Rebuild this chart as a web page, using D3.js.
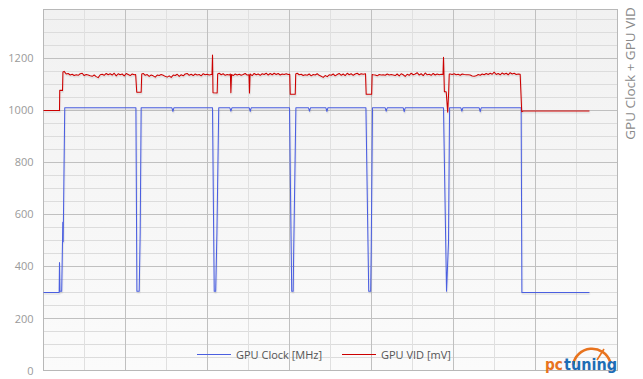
<!DOCTYPE html>
<html>
<head>
<meta charset="utf-8">
<script src="https://cdn.jsdelivr.net/npm/d3@7"></script>
<style>
  body { margin: 0; background: #fff; }
  svg { display: block; font-family: "Open Sans", sans-serif; }
</style>
</head>
<body>
<div id="chart"></div>
<script>
// GPU clock [MHz] - time in seconds / value
var clockTime = [0, 19.1, 19.5, 20.1, 22.2, 23.2, 23.5, 24.0, 25.9,
  112.7, 113.9, 116.7, 117.9, 119.1,
  156.6, 157.8, 159.0,
  206.1, 208.2, 210.0, 211.5, 213.7,
  227.3, 228.5, 229.8, 250.9, 252.1, 253.3,
  300.0, 302.7, 304.5, 305.1, 307.8,
  323.2, 324.4, 325.6, 344.4, 345.6, 346.8,
  393.2, 396.6, 399.0, 399.6, 401.2,
  416.7, 417.9, 419.2, 438.7, 439.9, 441.1,
  487.8, 491.5, 493.9, 495.2,
  509.0, 510.2, 511.4, 531.3, 532.6, 533.8,
  582.5, 583.4, 665.8];
var clockMhz = [300, 300, 415, 305, 305, 500, 570, 495, 1010,
  1010, 305, 305, 525, 1010,
  1010, 996, 1010,
  1010, 305, 305, 530, 1010,
  1010, 997, 1010, 1010, 996, 1010,
  1010, 305, 305, 457, 1010,
  1010, 997, 1010, 1010, 996, 1010,
  1010, 305, 305, 452, 1010,
  1010, 997, 1010, 1010, 995, 1010,
  1010, 305, 493, 1010,
  1010, 997, 1010, 1010, 995, 1010,
  1010, 300, 300];

// GPU VID [mV]
var vidTime = [0, 19.5, 19.8, 23.2, 23.7,
  25.2, 27.7, 30.1, 32.6, 35.0, 37.4, 39.9, 42.3, 44.8, 47.2, 49.6, 52.1, 54.5, 57.0, 59.4, 61.8,
  64.3, 66.7, 69.2, 71.6, 74.0, 76.5, 78.9, 81.3, 83.8, 86.2, 88.7, 91.1, 93.5, 96.0, 98.4, 100.9,
  103.3, 105.7, 108.2, 110.6, 112.4, 113.7, 119.1, 119.8,
  121.6, 124.0, 126.5, 128.9, 131.3, 133.8, 136.2, 138.7, 141.1, 143.5, 146.0, 148.4, 150.9, 153.3,
  155.7, 158.2, 160.6, 163.1, 165.5, 167.9, 170.4, 172.8, 175.2, 177.7, 180.1, 182.6, 185.0, 187.4,
  189.9, 192.3, 194.8, 197.2, 199.6, 202.1, 204.5, 205.5, 206.1, 206.7, 211.8, 212.4,
  214.3, 216.7, 219.1, 221.6, 224.0, 226.5, 227.9, 228.5, 229.3, 231.3, 233.8, 236.2, 238.7, 241.1,
  243.5, 246.0, 248.4, 250.6, 251.2, 251.9, 254.5, 256.9, 259.4, 261.8, 264.3, 266.7, 269.1, 271.6,
  274.0, 276.5, 278.9, 281.3, 283.8, 286.2, 288.7, 291.1, 293.5, 296.0, 298.4, 300.3, 300.9, 307.0, 307.6,
  309.4, 311.8, 314.3, 316.7, 319.1, 321.6, 324.0, 326.5, 328.9, 331.3, 333.8, 336.2, 338.7, 341.1,
  343.5, 346.0, 348.4, 350.9, 353.3, 355.7, 358.2, 360.6, 363.1, 365.5, 367.9, 370.4, 372.8, 375.2,
  377.7, 380.1, 382.6, 385.0, 387.4, 389.9, 392.7, 393.5, 400.2, 400.8,
  402.1, 404.5, 407.0, 409.4, 411.8, 414.3, 416.7, 419.2, 421.6, 424.0, 426.5, 428.9, 431.3, 433.8,
  436.2, 438.7, 441.1, 443.5, 446.0, 448.4, 450.9, 453.3, 455.7, 458.2, 460.6, 463.1, 465.5, 467.9,
  470.4, 472.8, 475.2, 477.7, 480.1, 482.6, 485.0, 487.2, 487.8, 488.9, 491.1, 492.9, 494.1, 494.8,
  496.0, 498.4, 500.9, 503.3, 505.7, 508.2, 510.6, 513.1, 515.5, 517.9, 520.4, 522.8, 525.2, 527.7,
  530.1, 532.6, 535.0, 537.4, 539.9, 542.3, 544.8, 547.2, 549.6, 552.1, 554.5, 557.0, 559.4, 561.8,
  564.3, 566.7, 569.1, 571.6, 574.0, 576.5, 578.9, 581.3, 583.2, 585.0, 665.8];
var vidMv = [1000, 1000, 1077, 1077, 1148,
  1150, 1140, 1142, 1136, 1139, 1134, 1137, 1135, 1141, 1143, 1134, 1138, 1136, 1133, 1131, 1136,
  1130, 1126, 1137, 1139, 1135, 1142, 1137, 1141, 1136, 1143, 1133, 1141, 1137, 1140, 1133, 1142,
  1138, 1134, 1140, 1137, 1138, 1070, 1070, 1140,
  1142, 1135, 1138, 1131, 1136, 1133, 1128, 1136, 1134, 1138, 1135, 1131, 1128, 1133,
  1127, 1136, 1134, 1139, 1131, 1137, 1133, 1140, 1142, 1135, 1139, 1134, 1140, 1136,
  1138, 1133, 1141, 1137, 1139, 1136, 1138, 1138, 1213, 1068, 1067, 1140,
  1143, 1137, 1141, 1135, 1138, 1136, 1140, 1068, 1138, 1134, 1140, 1136, 1139, 1135,
  1138, 1142, 1136, 1137, 1067, 1140, 1134, 1142, 1137, 1140, 1135, 1141, 1138, 1143,
  1136, 1142, 1137, 1143, 1138, 1142, 1136, 1140, 1138, 1141, 1138, 1139, 1062, 1062, 1140,
  1143, 1137, 1139, 1134, 1137, 1135, 1140, 1133, 1138, 1136, 1141, 1135, 1131, 1127,
  1134, 1130, 1137, 1135, 1140, 1133, 1138, 1142, 1135, 1140, 1134, 1143, 1137, 1141,
  1135, 1140, 1143, 1137, 1141, 1139, 1141, 1062, 1062, 1138,
  1137, 1136, 1133, 1138, 1136, 1137, 1135, 1140, 1136, 1138, 1136, 1134, 1140, 1133,
  1141, 1137, 1131, 1139, 1135, 1143, 1137, 1140, 1145, 1136, 1141, 1134, 1144, 1137,
  1139, 1135, 1142, 1136, 1140, 1137, 1139, 1138, 1204, 1072, 1072, 993, 1070, 1140,
  1140, 1138, 1141, 1137, 1139, 1135, 1140, 1138, 1137, 1137, 1136, 1132, 1131, 1133,
  1138, 1135, 1140, 1137, 1142, 1138, 1143, 1139, 1147, 1138, 1142, 1137, 1144, 1139,
  1143, 1137, 1145, 1140, 1143, 1138, 1140, 1139, 995, 998, 998];

var yTicks = [0, 200, 400, 600, 800, 1000, 1200];
var seriesNames = ["GPU Clock [MHz]", "GPU VID [mV]"];
var seriesColors = ["#4b5fe0", "#cc0000"];
var axisTitle = "GPU Clock + GPU VID";

var width = 643;
var height = 379;

var x = d3.scaleLinear().domain([0, 700]).range([43.5, 617.5]);
var y = d3.scaleLinear().domain([0, 1388]).range([370.5, 9.5]);

function crisp(v){
    return Math.round(v - 0.5) + 0.5;
}

var svg = d3.select("#chart")
    .append("svg")
    .attr("width", width)
    .attr("height", height);

var defs = svg.append("defs");
var grad = defs.append("linearGradient")
    .attr("id", "plotbg")
    .attr("x1", 0).attr("y1", 0).attr("x2", 0).attr("y2", 1);
grad.append("stop").attr("offset", "0%").attr("stop-color", "#f1f1f1");
grad.append("stop").attr("offset", "100%").attr("stop-color", "#fbfbfb");

var shadow = defs.append("filter").attr("id", "shadow")
    .attr("x", "-5%").attr("y", "-5%").attr("width", "110%").attr("height", "110%");
shadow.append("feDropShadow")
    .attr("dx", 0.5).attr("dy", 1.5)
    .attr("stdDeviation", 0.7)
    .attr("flood-color", "#000")
    .attr("flood-opacity", 0.12);

var x0 = x.range()[0], x1 = x.range()[1];
var yb = y.range()[0], yt = y.range()[1];

svg.append("rect")
    .attr("x", x0).attr("y", yt)
    .attr("width", x1 - x0).attr("height", yb - yt)
    .attr("fill", "url(#plotbg)");

// minor grid
var grid = svg.append("g").attr("class", "grid");
grid.selectAll(".hminor")
    .data(d3.range(50, 1388, 50).filter(function(v){ return v % 200 !== 0; }))
    .enter().append("line")
    .attr("x1", x0).attr("x2", x1)
    .attr("y1", function(d){ return crisp(y(d)); })
    .attr("y2", function(d){ return crisp(y(d)); })
    .attr("stroke", "#dcdcdc");

grid.selectAll(".vminor")
    .data(d3.range(50, 700, 100))
    .enter().append("line")
    .attr("y1", yt).attr("y2", yb)
    .attr("x1", function(d){ return crisp(x(d)); })
    .attr("x2", function(d){ return crisp(x(d)); })
    .attr("stroke", "#e0e0e0");

// major grid
grid.selectAll(".hmajor")
    .data(yTicks.slice(1))
    .enter().append("line")
    .attr("x1", x0).attr("x2", x1)
    .attr("y1", function(d){ return crisp(y(d)); })
    .attr("y2", function(d){ return crisp(y(d)); })
    .attr("stroke", "#c0c0c0");

grid.selectAll(".vmajor")
    .data(d3.range(100, 700, 100))
    .enter().append("line")
    .attr("y1", yt).attr("y2", yb)
    .attr("x1", function(d){ return crisp(x(d)); })
    .attr("x2", function(d){ return crisp(x(d)); })
    .attr("stroke", "#c0c0c0");

svg.append("rect")
    .attr("x", x0).attr("y", yt)
    .attr("width", x1 - x0).attr("height", yb - yt)
    .attr("fill", "none")
    .attr("stroke", "#b8b8b8");

// y axis labels
var yAxis = d3.axisLeft(y)
    .tickValues(yTicks)
    .tickFormat(d3.format("d"))
    .tickSize(0)
    .tickPadding(10);
var yg = svg.append("g")
    .attr("transform", "translate(" + x0 + ",0)")
    .call(yAxis);
yg.select(".domain").remove();
yg.selectAll("text")
    .attr("fill", "#9a9a9a")
    .style("font-size", "11px")
    .style("font-family", "'Open Sans', sans-serif");

// series
var line = d3.line()
    .x(function(d){ return x(d[0]); })
    .y(function(d){ return y(d[1]); });

var series = [d3.zip(clockTime, clockMhz), d3.zip(vidTime, vidMv)];

svg.append("g")
    .attr("filter", "url(#shadow)")
    .selectAll("path")
    .data(series)
    .enter().append("path")
    .attr("d", line)
    .attr("fill", "none")
    .attr("stroke", function(d, i){ return seriesColors[i]; })
    .attr("stroke-width", 1.05)
    .attr("stroke-linejoin", "round");

// legend
var legendX = [197, 342];
var legend = svg.append("g").attr("class", "legend");
seriesNames.forEach(function(name, i){
    legend.append("line")
        .attr("x1", legendX[i]).attr("x2", legendX[i] + 34)
        .attr("y1", 354.5).attr("y2", 354.5)
        .attr("stroke", seriesColors[i])
        .attr("stroke-width", 1.1);
    legend.append("text")
        .attr("x", legendX[i] + 39)
        .attr("y", 359)
        .attr("fill", "#555")
        .style("font-size", "11px")
        .text(name);
});

// axis title on the right
svg.append("text")
    .attr("transform", "translate(635,73.5) rotate(-90)")
    .attr("text-anchor", "middle")
    .attr("fill", "#8a8a8a")
    .style("font-size", "13.5px")
    .text(axisTitle);

// logo
var logo = svg.append("g").attr("class", "logo");
var gauge = d3.arc()
    .innerRadius(18)
    .outerRadius(20.5)
    .startAngle(-1.42)
    .endAngle(1.24);
logo.append("path")
    .attr("transform", "translate(592,368)")
    .attr("d", gauge())
    .attr("fill", "#e8731e");
logo.append("line")
    .attr("x1", 597).attr("y1", 360)
    .attr("x2", 604).attr("y2", 349)
    .attr("stroke", "#e8731e")
    .attr("stroke-width", 1.6);
var logoText = logo.append("text")
    .attr("y", 370)
    .style("font-family", "'DejaVu Sans', sans-serif")
    .style("font-weight", "bold")
    .style("font-size", "15px");
logoText.append("tspan")
    .attr("x", 545)
    .attr("textLength", 18)
    .attr("lengthAdjust", "spacingAndGlyphs")
    .attr("fill", "#e8731e")
    .text("pc");
logoText.append("tspan")
    .attr("x", 564)
    .attr("textLength", 53)
    .attr("lengthAdjust", "spacingAndGlyphs")
    .attr("fill", "#1e6db5")
    .text("tuning");
</script>
</body>
</html>
